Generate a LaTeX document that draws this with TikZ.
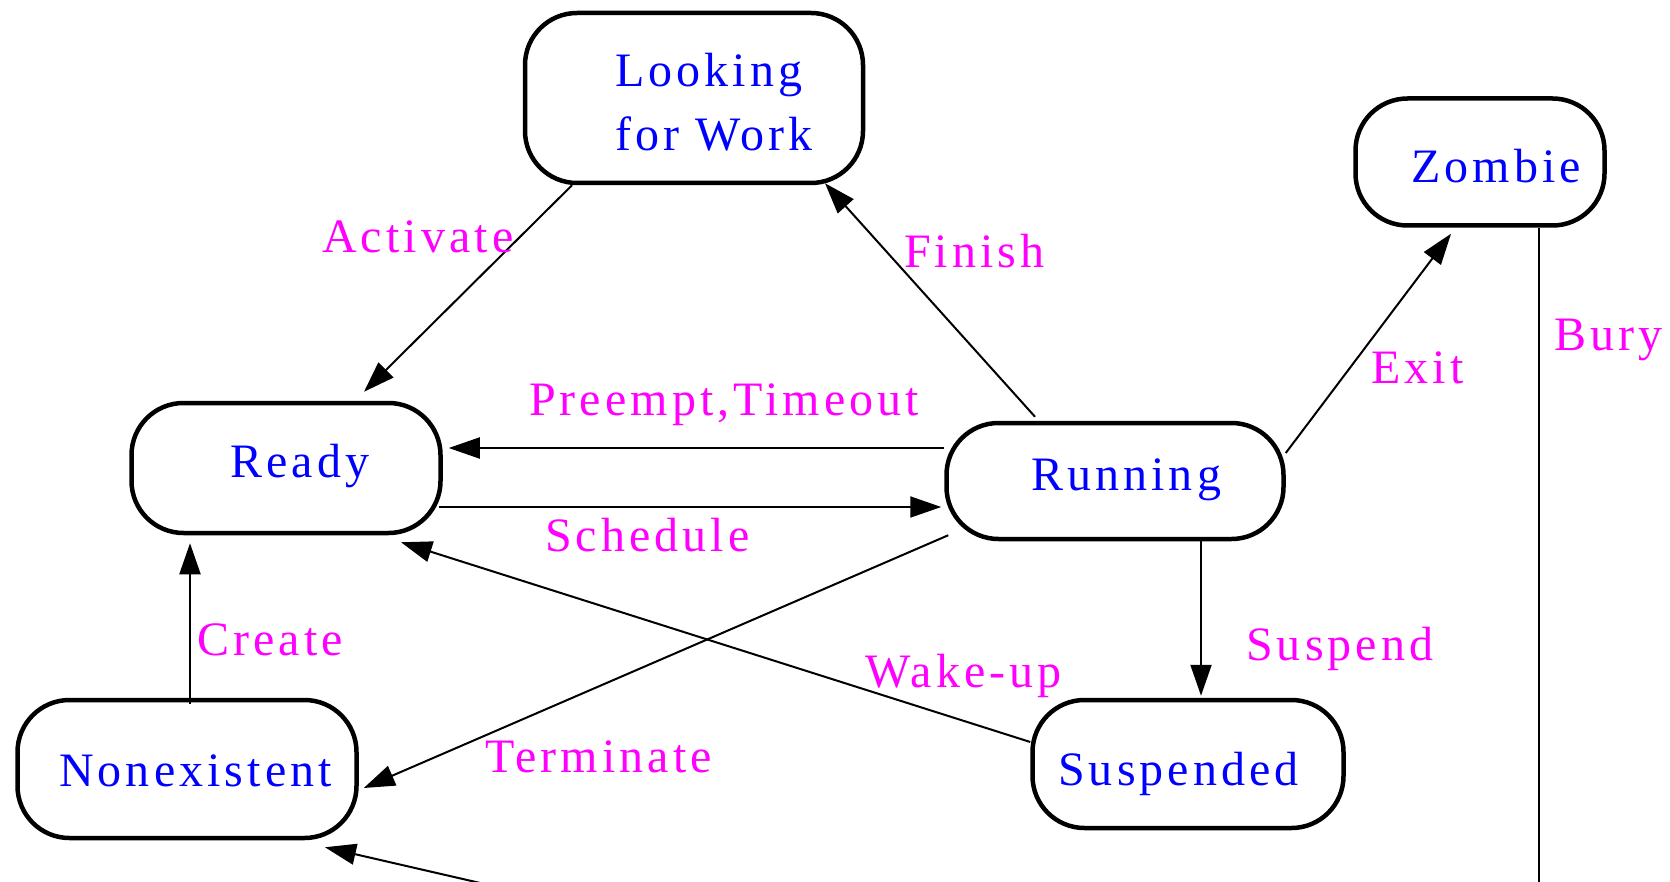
\documentclass[tikz,border=0pt]{standalone}
\usepackage{fontspec}
\setmainfont{Liberation Serif}[LetterSpace=8.5]
\usetikzlibrary{arrows.meta,calc}
\definecolor{stblue}{RGB}{0,0,255}
\definecolor{stmagenta}{RGB}{255,0,255}
\begin{document}
\begin{tikzpicture}[x=1pt,y=-1pt,
  state/.style={draw, line width=4.5pt, rounded corners=52pt, inner sep=0pt},
  statetext/.style={text=stblue, font=\fontsize{48}{64}\selectfont, inner sep=0pt},
  edgelabel/.style={text=stmagenta, font=\fontsize{48}{58}\selectfont, inner sep=0pt, anchor=base west},
  trans/.style={line width=2pt, -{Triangle[length=31pt,width=21pt]}}]
\path[use as bounding box, clip] (0,0) rectangle (1670,882);

% states
\node[state, minimum width=338pt, minimum height=170pt] (look) at (694,98) {};
\node[state, minimum width=249pt, minimum height=127pt] (zombie) at (1480,162) {};
\node[state, minimum width=309pt, minimum height=130pt] (ready) at (286,468) {};
\node[state, minimum width=337pt, minimum height=116pt] (running) at (1115,481) {};
\node[state, minimum width=339pt, minimum height=138pt] (nonex) at (187,769) {};
\node[state, minimum width=311pt, minimum height=128pt] (susp) at (1188,764) {};

% state names
\node[statetext, align=left] (looktxt) at (714,102) {Looking\\for Work};
\node[statetext, anchor=base west] (zombietxt) at (1411,183) {Zombie};
\node[statetext, anchor=base west] (readytxt) at (230,477) {Ready};
\node[statetext, anchor=base west] (runningtxt) at (1031,490) {Running};
\node[statetext, anchor=base west] (nonextxt) at (59,786) {Nonexistent};
\node[statetext, anchor=base west] (susptxt) at (1058,785) {Suspended};

% loose ends running off the lower edge
\coordinate (buryend) at (1539,900);
\coordinate (reapstart) at (554,900);

% transitions
\draw[trans] ($(look.south)+(-122,0)$) -- ($(ready.north)+(78,-9)$);
\draw[trans] ($(running.north)+(-80,-4)$) -- ($(look.south)+(131,-2)$);
\draw[trans] ($(running.east)+(0,-28)$) -- ($(zombie.south)+(-29,6)$);
\draw[line width=2.5pt] ($(zombie.south)+(59,0)$) -- (buryend);
\draw[trans] ($(running.west)+(0,-33)$) -- ($(ready.east)+(6,-20)$);
\draw[trans] ($(ready.east)+(-4,39)$) -- ($(running.west)+(-3,26)$);
\draw[trans] ($(nonex.north)+(3,6)$) -- ($(ready.south)+(-96,8)$);
\draw[trans] ($(running.south)+(86,0)$) -- ($(susp.north)+(13,-2)$);
\draw[trans] ($(susp.west)+(0,-22)$) -- ($(ready.south)+(115,7)$);
\draw[trans] ($(running.south west)+(4,-6)$) -- ($(nonex.east)+(5,19)$);
\draw[trans] (reapstart) -- ($(nonex.south)+(138,7)$);

% transition labels
\node[edgelabel] (lactivate) at (322,253) {Activate};
\node[edgelabel] (lfinish) at (904,268) {Finish};
\node[edgelabel] (lexit) at (1371,383) {Exit};
\node[edgelabel] (lbury) at (1554,351) {Bury};
\node[edgelabel] (lpreempt) at (529,415) {Preempt,Timeout};
\node[edgelabel] (lschedule) at (545,551) {Schedule};
\node[edgelabel] (lcreate) at (197,655) {Create};
\node[edgelabel] (lsuspend) at (1246,660) {Suspend};
\node[edgelabel] (lwake) at (865,687) {Wake-up};
\node[edgelabel] (lterminate) at (485,772) {Terminate};
\end{tikzpicture}
\end{document}
